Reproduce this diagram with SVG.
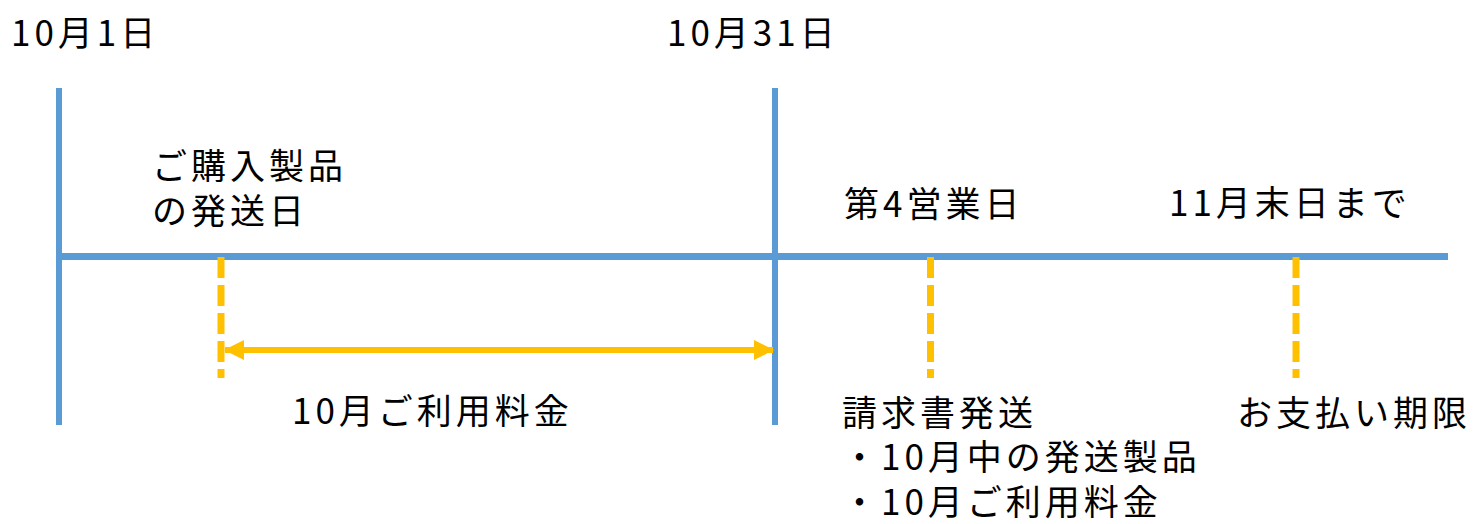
<svg xmlns="http://www.w3.org/2000/svg" width="1474" height="524" viewBox="0 0 1474 524">
<style>
.t{font-family:"Noto Sans CJK JP","Noto Sans",sans-serif;font-size:35px;letter-spacing:4px;fill:#000}
.axis{stroke:#5B9BD5;stroke-width:7;fill:none}
.tick{stroke:#5B9BD5;stroke-width:6;fill:none}
.dash{stroke:#FFC000;stroke-width:7;stroke-dasharray:21 7;fill:none}
.arr{stroke:#FFC000;stroke-width:6;fill:none}
</style>
<defs>
<marker id="ah" markerUnits="userSpaceOnUse" markerWidth="20" markerHeight="20" refX="19" refY="10" orient="auto-start-reverse" viewBox="0 0 20 20">
<path d="M0,0 L20,10 L0,20 Z" fill="#FFC000"/>
</marker>
</defs>
<rect width="1474" height="524" fill="#fff"/>
<g id="connectors">
<line class="axis" x1="56" y1="256.5" x2="1448" y2="256.5"/>
<line class="tick" x1="59" y1="88" x2="59" y2="425"/>
<line class="tick" x1="775" y1="88" x2="775" y2="425"/>
<line class="dash" x1="221" y1="257" x2="221" y2="378"/>
<line class="dash" x1="930.5" y1="257" x2="930.5" y2="378"/>
<line class="dash" x1="1296" y1="257" x2="1296" y2="378"/>
<line class="arr" x1="225" y1="350" x2="773" y2="350" marker-start="url(#ah)" marker-end="url(#ah)"/>
</g>
<g id="oct1"><text class="t" x="11" y="46">10月1日</text></g>
<g id="oct31"><text class="t" x="667" y="46">10月31日</text></g>
<g id="ship"><text class="t" x="152" y="179">ご購入製品</text><text class="t" x="152" y="224">の発送日</text></g>
<g id="usage"><text class="t" x="292" y="424">10月ご利用料金</text></g>
<g id="bizday"><text class="t" x="844" y="217">第4営業日</text></g>
<g id="invoice"><text class="t" x="842" y="426">請求書発送</text><text class="t" x="842" y="470">・10月中の発送製品</text><text class="t" x="842" y="515">・10月ご利用料金</text></g>
<g id="nov"><text class="t" x="1169" y="216">11月末日まで</text></g>
<g id="due"><text class="t" x="1237" y="426">お支払い期限</text></g>
</svg>
